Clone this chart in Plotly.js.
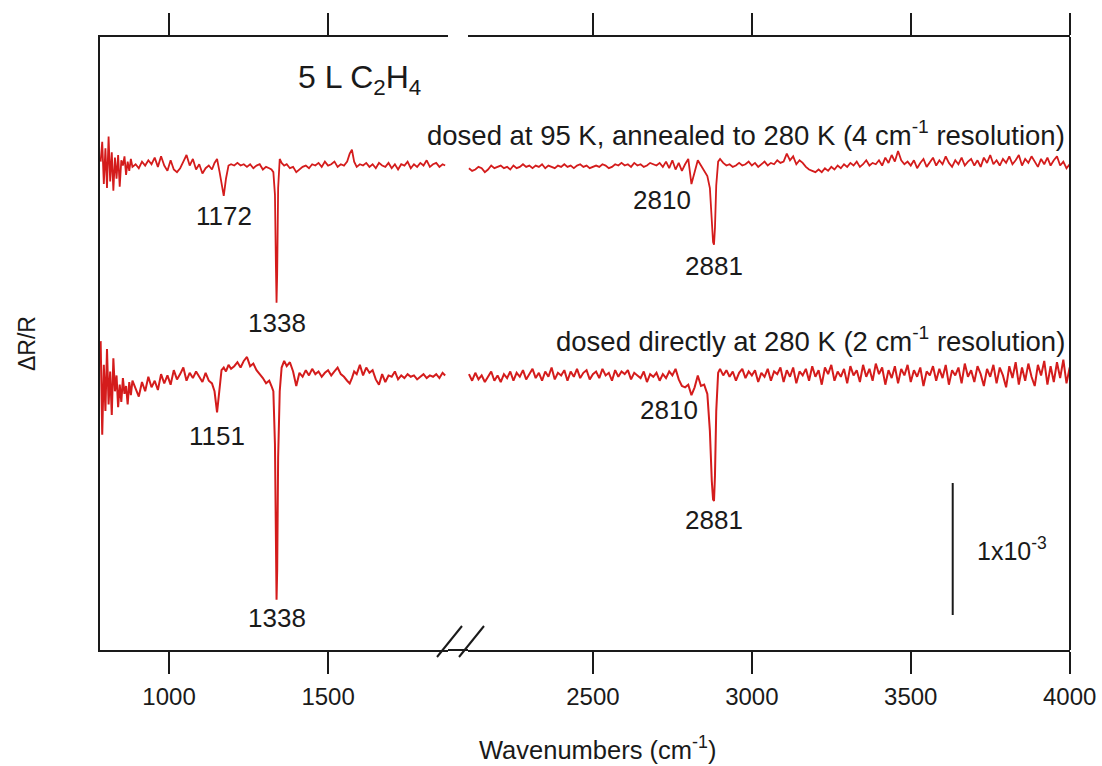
<!DOCTYPE html>
<html>
<head>
<meta charset="utf-8">
<script src="https://cdn.plot.ly/plotly-3.0.1.min.js"></script>
<style>html,body{margin:0;padding:0;background:#fff;}#chart{width:1102px;height:766px;}</style>
</head>
<body>
<div id="chart"></div>
<script>
// Wavenumbers (cm-1), low-frequency segment
const xLeft = [785,790,795,800,805,810,815,820,825,830,835,840,845,850,855,860,865,870,875,880,885,
895,905,915,925,935,945,955,965,975,985,995,1005,1015,1025,1035,1045,1055,1065,1075,1085,1095,1105,1115,1125,1135,
1143,1151,1159,1165,1172,1179,1187,
1195,1205,1215,1225,1235,1245,1255,1265,1275,1285,1295,1305,1315,
1322,1328,1333,1336,1338,1340,1343,1348,1354,1362,
1370,1380,1390,1400,1410,1420,1430,1440,1450,1460,1470,1480,1490,1500,1510,1520,1530,1540,1550,1560,
1568,1575,1582,
1590,1600,1610,1620,1630,1640,1650,1660,1670,1680,1690,1700,1710,1720,1730,1740,1750,1760,1770,1780,1790,1800,1810,1820,1830,1840,1850,1860,
1868];

// dR/R (x1e-3), dosed at 95 K, annealed to 280 K
const topLeft = [0.05,0.20,-0.12,0.15,-0.15,0.24,-0.10,0.12,-0.17,0.08,-0.08,0.10,-0.14,0.06,0.02,0.09,-0.05,0.05,-0.02,0.07,0.01,
0.03,0.00,0.05,0.02,0.06,0.03,0.08,0.01,0.09,0.02,-0.02,0.06,-0.01,-0.03,0.00,0.05,0.10,0.02,0.07,-0.01,0.03,-0.04,0.00,0.02,-0.01,
0.04,0.07,-0.03,-0.13,-0.21,-0.08,0.02,
0.03,0.02,0.04,0.02,0.03,0.01,0.03,0.00,0.02,0.03,-0.01,0.01,0.00,
-0.01,-0.03,-0.20,-0.74,-1.02,-0.80,-0.15,0.07,0.04,0.02,
0.03,0.00,0.01,-0.03,-0.01,0.01,0.02,0.00,0.03,0.02,0.04,0.01,0.05,0.02,0.03,0.05,0.01,0.03,0.02,0.05,
0.11,0.14,0.05,
0.01,0.03,0.02,0.04,0.01,0.03,0.00,0.04,0.02,0.01,0.04,0.00,0.03,-0.01,0.03,0.02,0.05,0.00,0.03,0.01,0.04,0.02,0.06,0.01,0.03,0.04,0.01,0.03,
0.02];

// dR/R (x1e-3), dosed directly at 280 K
const botLeft = [0.28,-0.43,0.10,-0.25,0.22,-0.20,0.05,-0.28,0.15,-0.10,0.02,-0.22,-0.05,-0.18,0.00,-0.12,-0.06,-0.20,-0.03,-0.13,-0.02,
-0.08,-0.14,-0.03,-0.10,0.01,-0.07,-0.02,-0.09,0.03,-0.04,0.02,-0.05,0.06,-0.01,0.03,0.08,-0.02,0.04,0.00,0.05,0.01,-0.03,0.04,-0.02,-0.04,
-0.10,-0.26,-0.06,0.06,0.08,0.05,0.10,
0.07,0.09,0.12,0.08,0.13,0.16,0.09,0.11,0.06,0.03,0.00,-0.04,-0.02,
-0.06,-0.10,-0.50,-1.30,-1.68,-1.45,-0.60,-0.10,0.08,0.13,
0.09,0.12,0.05,-0.06,0.04,0.01,0.06,0.02,0.07,0.03,0.05,0.01,0.04,0.06,0.02,0.05,0.08,0.03,0.01,-0.02,
-0.04,0.00,0.05,
0.03,0.10,0.02,0.08,0.04,0.06,-0.01,-0.05,0.03,-0.03,0.02,0.01,0.05,-0.01,0.02,0.00,0.03,0.01,0.02,-0.01,0.01,0.03,0.00,0.02,0.01,0.03,0.00,0.04,
0.02];

// Wavenumbers (cm-1), high-frequency segment
const xRight = [2110,2120,2130,2140,2150,2160,2170,2180,2190,2200,
2210,2220,2230,2240,2250,2260,2270,2280,2290,2300,
2310,2320,2330,2340,2350,2360,2370,2380,2390,2400,
2410,2420,2430,2440,2450,2460,2470,2480,2490,2500,
2510,2520,2530,2540,2550,2560,2570,2580,2590,2600,
2610,2620,2630,2640,2650,2660,2670,2680,2690,2700,
2710,2720,2730,2740,2750,2760,2770,2780,2790,2800,
2810,2820,2830,2840,2850,2860,
2868,2874,2878,2881,2884,2888,2894,
2900,2910,2920,2930,2940,2950,2960,2970,2980,2990,
3000,3010,3020,3030,3040,3050,3060,3070,3080,3090,
3100,3110,3120,3130,3140,3150,3160,3170,3180,3190,
3200,3210,3220,3230,3240,3250,3260,3270,3280,3290,
3300,3310,3320,3330,3340,3350,3360,3370,3380,3390,
3400,3410,3420,3430,3440,3450,3460,3470,3480,3490,
3500,3510,3520,3530,3540,3550,3560,3570,3580,3590,
3600,3610,3620,3630,3640,3650,3660,3670,3680,3690,
3700,3710,3720,3730,3740,3750,3760,3770,3780,3790,
3800,3810,3820,3830,3840,3850,3860,3870,3880,3890,
3900,3910,3920,3930,3940,3950,3960,3970,3980,3990,
4000];

const topRight = [0.00,-0.02,-0.01,0.01,0.00,-0.03,-0.01,0.02,0.00,0.01,
0.02,0.00,0.01,-0.01,0.02,0.00,0.01,0.03,0.01,0.02,
0.00,0.02,0.01,0.03,0.00,0.02,0.01,0.00,0.02,0.01,
0.03,0.01,0.02,0.00,0.02,0.03,0.01,0.02,0.00,0.01,
0.02,0.01,0.03,0.02,0.00,0.01,0.03,0.02,0.04,0.02,
0.03,0.01,0.04,0.02,0.03,0.01,0.02,0.04,0.03,0.02,
0.04,0.01,0.05,0.00,0.06,-0.01,0.04,-0.02,0.03,0.07,
-0.12,-0.03,0.06,0.02,-0.02,-0.06,
-0.15,-0.40,-0.56,-0.58,-0.45,-0.13,0.05,
0.07,0.04,0.02,0.03,0.01,0.02,0.04,0.02,0.03,0.05,
0.02,0.04,0.01,0.03,0.05,0.02,0.04,0.03,0.06,0.04,
0.05,0.11,0.06,0.09,0.03,0.06,0.04,0.01,-0.01,-0.02,
-0.03,-0.01,-0.03,0.00,-0.02,0.01,-0.01,0.02,0.00,0.03,
0.01,0.04,0.02,0.05,0.01,0.03,0.06,0.02,0.04,0.03,
0.06,0.02,0.08,0.04,0.10,0.05,0.13,0.06,0.03,0.05,
0.02,0.06,0.00,0.04,0.07,0.01,0.05,0.08,0.02,0.06,
0.03,0.09,0.04,0.01,0.06,0.03,0.08,0.02,0.05,0.07,
0.02,0.06,0.01,0.08,0.04,0.10,0.03,0.06,0.02,0.07,
0.04,0.09,0.03,0.06,0.10,0.02,0.07,0.04,0.09,0.05,
0.01,0.07,0.03,0.08,0.02,0.06,0.09,0.02,0.05,0.00,
0.03];

const botRight = [0.03,-0.02,0.04,-0.01,0.02,-0.03,0.01,0.05,-0.02,0.02,
-0.03,0.03,0.00,0.05,-0.02,0.04,0.01,0.06,-0.01,0.03,
0.07,0.00,0.04,-0.02,0.05,0.01,0.08,-0.01,0.04,0.02,
0.06,-0.02,0.05,0.01,0.07,0.00,0.04,0.06,-0.01,0.03,
0.05,0.00,0.07,0.02,0.04,-0.02,0.06,0.01,0.05,0.03,
0.06,-0.01,0.04,0.02,0.00,0.05,-0.03,0.03,0.01,0.04,
-0.02,0.03,0.00,0.05,0.02,0.07,-0.01,-0.06,-0.07,-0.05,
-0.13,-0.07,0.02,-0.06,-0.05,-0.12,
-0.40,-0.78,-0.92,-0.93,-0.74,-0.25,0.04,
0.07,0.02,0.06,0.01,0.05,-0.02,0.04,0.07,0.00,0.05,
0.02,0.06,-0.03,0.04,0.01,0.07,-0.02,0.05,0.03,0.08,
-0.03,0.06,0.01,0.08,-0.04,0.05,0.02,0.07,-0.02,0.09,
0.01,0.06,-0.05,0.08,0.03,0.10,-0.02,0.05,0.01,0.07,
-0.04,0.09,0.02,0.06,-0.03,0.10,0.01,0.07,-0.02,0.11,
0.03,0.08,-0.05,0.06,0.00,0.09,-0.04,0.07,0.02,0.10,
-0.03,0.06,0.01,0.08,-0.06,0.05,0.02,0.09,-0.02,0.07,
0.00,0.10,-0.05,0.06,0.02,0.08,-0.04,0.11,0.01,0.06,
-0.03,0.09,0.03,-0.06,0.07,0.01,0.10,-0.04,0.08,0.02,
-0.07,0.09,0.00,0.12,-0.05,0.08,-0.02,0.11,0.01,-0.06,
0.10,0.02,0.13,-0.05,0.09,-0.03,0.12,0.00,0.14,-0.04,
0.08];

// vertical offsets of the stacked spectra (x1e-3)
const topOffset = 3.65;
const botOffset = 2.06;

const xTicksLeft = [1000, 1500];
const xTicksRight = [2500, 3000, 3500, 4000];

// peak labels: [text, wavenumber, axis, y (x1e-3), xanchor, xshift]
const peakLabels = [
  ['1172', 1172, 'x', 3.29, 'center', 0],
  ['1338', 1338, 'x', 2.48, 'center', 0],
  ['1151', 1151, 'x', 1.62, 'center', 0],
  ['1338', 1338, 'x', 0.24, 'center', 0],
  ['2810', 2810, 'x2', 3.41, 'right', 2],
  ['2881', 2881, 'x2', 2.91, 'center', 0],
  ['2810', 2810, 'x2', 1.82, 'right', 9],
  ['2881', 2881, 'x2', 0.985, 'center', 0]
];

// scale bar: 1x10^-3
const scaleBarX = 3632;
const scaleBarY = [0.265, 1.265];

const RED = '#d41c1c';
const INK = '#1a1a1a';
const FONT = 'Liberation Sans, Arial, sans-serif';

const off = (arr, o) => arr.map(v => v + o);

const traces = [
  {x: xLeft, y: off(topLeft, topOffset), xaxis: 'x', yaxis: 'y', type: 'scatter', mode: 'lines', line: {color: RED, width: 1.8}, hoverinfo: 'skip'},
  {x: xLeft, y: off(botLeft, botOffset), xaxis: 'x', yaxis: 'y', type: 'scatter', mode: 'lines', line: {color: RED, width: 2}, hoverinfo: 'skip'},
  {x: xRight, y: off(topRight, topOffset), xaxis: 'x2', yaxis: 'y', type: 'scatter', mode: 'lines', line: {color: RED, width: 1.8}, hoverinfo: 'skip'},
  {x: xRight, y: off(botRight, botOffset), xaxis: 'x2', yaxis: 'y', type: 'scatter', mode: 'lines', line: {color: RED, width: 2}, hoverinfo: 'skip'}
];

const dLeft = [0, 348/970];
const dRight = [368/970, 1];

const axCommon = {
  showline: true, linecolor: INK, linewidth: 2, mirror: 'ticks',
  ticks: 'outside', ticklen: 22, tickwidth: 2, tickcolor: INK,
  showgrid: false, zeroline: false,
  tickfont: {family: FONT, size: 24, color: INK},
  ticklabelstandoff: 2,
  tickmode: 'array', anchor: 'y', fixedrange: true
};

const annotations = peakLabels.map(p => ({
  text: p[0], x: p[1], xref: p[2], y: p[3], yref: 'y',
  xanchor: p[4], yanchor: 'middle', xshift: p[5], showarrow: false,
  font: {family: FONT, size: 26, color: INK}
}));

annotations.push(
  {text: '5 L C<sub>2</sub>H<sub>4</sub>', xref: 'paper', yref: 'paper', x: 0.268, y: 0.930, xanchor: 'center', yanchor: 'middle', showarrow: false, font: {family: FONT, size: 32, color: INK}},
  {text: 'dosed at 95 K, annealed to 280 K (4 cm<sup>-1</sup> resolution)', xref: 'paper', yref: 'paper', x: 0.997, y: 0.843, xanchor: 'right', yanchor: 'middle', showarrow: false, font: {family: FONT, size: 27.5, color: INK}},
  {text: 'dosed directly at 280 K (2 cm<sup>-1</sup> resolution)', xref: 'paper', yref: 'paper', x: 0.997, y: 0.506, xanchor: 'right', yanchor: 'middle', showarrow: false, font: {family: FONT, size: 27.5, color: INK}},
  {text: '1x10<sup>-3</sup>', xref: 'x2', yref: 'y', x: 3818, y: 0.765, xanchor: 'center', yanchor: 'middle', showarrow: false, font: {family: FONT, size: 25, color: INK}},
  {text: 'Wavenumbers (cm<sup>-1</sup>)', xref: 'paper', yref: 'paper', x: 0.5124, y: -0.16, xanchor: 'center', yanchor: 'middle', showarrow: false, font: {family: FONT, size: 25.5, color: INK}}
);

const shapes = [
  // right frame edge
  {type: 'line', xref: 'paper', yref: 'paper', x0: 1, x1: 1, y0: 0, y1: 1, line: {color: INK, width: 2}},
  // bottom line continuous through the break
  {type: 'line', xref: 'paper', yref: 'paper', x0: dLeft[1], x1: dRight[0], y0: 0, y1: 0, line: {color: INK, width: 2}},
  // axis break marks
  {type: 'line', xref: 'paper', yref: 'paper', x0: (437-100)/970, x1: (462-100)/970, y0: (650-657)/613, y1: (650-626)/613, line: {color: INK, width: 2}},
  {type: 'line', xref: 'paper', yref: 'paper', x0: (459-100)/970, x1: (484-100)/970, y0: (650-657)/613, y1: (650-626)/613, line: {color: INK, width: 2}},
  // scale bar
  {type: 'line', xref: 'x2', yref: 'y', x0: scaleBarX, x1: scaleBarX, y0: scaleBarY[0], y1: scaleBarY[1], line: {color: INK, width: 2}}
];

const layout = {
  width: 1102, height: 766,
  margin: {l: 100, r: 32, t: 37, b: 116},
  paper_bgcolor: '#ffffff', plot_bgcolor: '#ffffff',
  showlegend: false,
  font: {family: FONT, color: INK},
  xaxis: Object.assign({}, axCommon, {domain: dLeft, range: [783, 1877], tickvals: xTicksLeft, ticktext: xTicksLeft.map(String)}),
  xaxis2: Object.assign({}, axCommon, {domain: dRight, range: [2107, 4001], tickvals: xTicksRight, ticktext: xTicksRight.map(String)}),
  yaxis: {
    domain: [0, 1], range: [0, 613/132], anchor: 'x',
    showline: true, linecolor: INK, linewidth: 2, ticks: '', showticklabels: false,
    showgrid: false, zeroline: false, fixedrange: true,
    title: {text: 'ΔR/R', font: {family: FONT, size: 23, color: INK}, standoff: 56}
  },
  annotations: annotations,
  shapes: shapes
};

Plotly.newPlot('chart', traces, layout, {staticPlot: true, displayModeBar: false});
</script>
</body>
</html>
